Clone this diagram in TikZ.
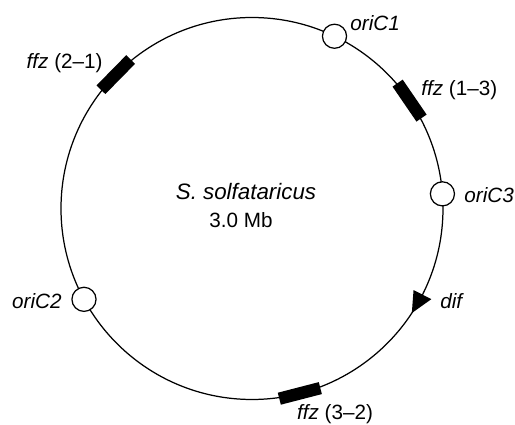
\documentclass[tikz,border=0pt]{standalone}
\usepackage{fontspec}
\setmainfont{Liberation Sans}
\begin{document}
\begin{tikzpicture}[x=0.017cm, y=0.017cm,
		ori/.style={circle, fill=white, draw=black, line width=0.6pt, minimum size=0.41cm, inner sep=0pt},
		ffzbox/.style={rectangle, fill=black, minimum width=0.72cm, minimum height=0.21cm, inner sep=0pt},
		lbl/.style={inner sep=0pt}]
			\useasboundingbox (-252,-216.5) rectangle (263,208.5);
			\draw[line width=0.6pt] (0,0) circle[radius=191];
			\node[ffzbox, rotate=124.4] (F13) at (34.4:191) {};
			\node[ffzbox, rotate=225.5] (F21) at (135.5:191) {};
			\node[ffzbox, rotate=14.5] (F32) at (-75.5:191) {};
			\node[ori] (oriC1) at (64.4:191) {};
			\node[ori] (oriC2) at (208.4:191) {};
			\node[ori] (oriC3) at (4.4:191) {};
			\coordinate (dif) at (-33.2:191);
			\fill (-26.8:201) -- (dif) -- (-26.8:181) -- cycle;
			\node[lbl, anchor=west] (L-oriC1) at (98,185) {\textit{oriC1}};
			\node[lbl, anchor=west] (L-oriC3) at (212,13.5) {\textit{oriC3}};
			\node[lbl, anchor=east] (L-oriC2) at (-190,-93) {\textit{oriC2}};
			\node[lbl, anchor=west] (L-dif) at (188,-93) {\textit{dif}};
			\node[lbl, anchor=west] (L-F13) at (169,118) {\textit{ffz} (1–3)};
			\node[lbl, anchor=east] (L-F21) at (-149,145.5) {\textit{ffz} (2–1)};
			\node[lbl, anchor=south] (L-F32) at (83,-216) {\textit{ffz} (3–2)};
			\node[lbl, font=\fontsize{10.8}{13}\selectfont] (species) at (-6,16.5) {\textit{S. solfataricus}};
			\node[lbl] (size) at (-11,-11.5) {3.0 Mb};
	\end{tikzpicture}
\end{document}
